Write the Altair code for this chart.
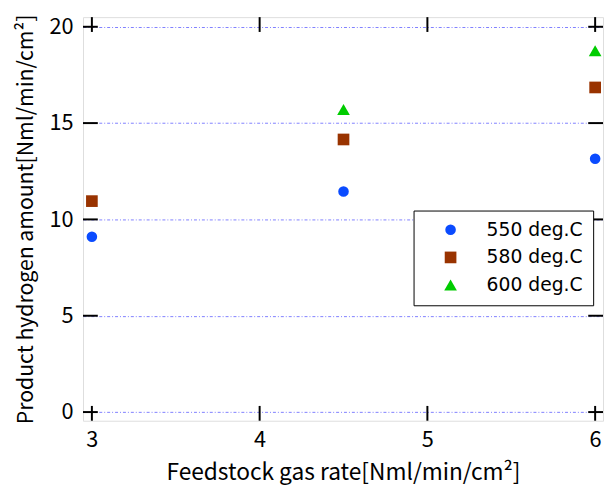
import altair as alt
import pandas as pd

series = ["550 deg.C", "580 deg.C", "600 deg.C"]
colors = ["#0A4BFF", "#993300", "#00CC00"]
shapes = ["circle", "square", "triangle-up"]
sizes = [115, 165, 140]

rate_550 = [3.0, 4.5, 6.0]
h2_550 = [9.1, 11.45, 13.15]
rate_580 = [3.0, 4.5, 6.0]
h2_580 = [10.95, 14.15, 16.85]
rate_600 = [4.5, 6.0]
h2_600 = [15.7, 18.75]

x_ticks = [3, 4, 5, 6]
y_ticks = [0, 5, 10, 15, 20]

rows = []
for s, xs, ys in [(series[0], rate_550, h2_550), (series[1], rate_580, h2_580), (series[2], rate_600, h2_600)]:
    for a, b in zip(xs, ys):
        rows.append({"rate": a, "h2": b, "series": s})
df = pd.DataFrame(rows)
xt = pd.DataFrame({"xt": x_ticks})
yt = pd.DataFrame({"yt": y_ticks})

W, H = 527, 409
FONT = "Noto Sans CJK JP"
xscale = alt.Scale(domain=[2.947, 6.047], nice=False, zero=False)
yscale = alt.Scale(domain=[-0.45, 20.5], nice=False, zero=False)

points = alt.Chart(df).mark_point(filled=True, opacity=1).encode(
    x=alt.X("rate:Q", scale=xscale,
            axis=alt.Axis(values=x_ticks, format="d", title="Feedstock gas rate[Nml/min/cm²]",
                          tickSize=0, labelPadding=9, grid=False, domain=False,
                          labelFontSize=22, titleFontSize=23, labelColor="#000",
                          titleColor="#000", titleFontWeight="normal", labelFont=FONT,
                          titleFont=FONT, titlePadding=12)),
    y=alt.Y("h2:Q", scale=yscale,
            axis=alt.Axis(values=y_ticks, format="d", title="Product hydrogen amount[Nml/min/cm²]",
                          tickSize=0, labelPadding=10, grid=True, gridColor="#7f7fff",
                          gridDash=[3, 2, 1, 2], gridWidth=1, domain=False,
                          labelFontSize=22, titleFontSize=21.5, labelColor="#000",
                          titleColor="#000", titleFontWeight="normal", labelFont=FONT,
                          titleFont=FONT, titlePadding=12)),
    color=alt.Color("series:N", scale=alt.Scale(domain=series, range=colors),
                    legend=alt.Legend(title=None, orient="none", legendX=335, legendY=196,
                                      strokeColor="#000", fillColor="#fff",
                                      padding=10, labelFontSize=19, labelFont="DejaVu Sans",
                                      labelColor="#000", symbolSize=160, rowPadding=8,
                                      symbolOpacity=1, symbolOffset=18, labelOffset=27,
                                      symbolStrokeWidth=0)),
    shape=alt.Shape("series:N", scale=alt.Scale(domain=series, range=shapes)),
    size=alt.Size("series:N", scale=alt.Scale(domain=series, range=sizes), legend=None),
)

tick_len = 15
xb = alt.Chart(xt).mark_rule(color="#000", strokeWidth=2).encode(
    x=alt.X("xt:Q", scale=xscale), y=alt.value(H), y2=alt.value(H - tick_len))
xtp = alt.Chart(xt).mark_rule(color="#000", strokeWidth=2).encode(
    x=alt.X("xt:Q", scale=xscale), y=alt.value(0), y2=alt.value(tick_len))
yl = alt.Chart(yt).mark_rule(color="#000", strokeWidth=2).encode(
    y=alt.Y("yt:Q", scale=yscale), x=alt.value(0), x2=alt.value(tick_len))
yr = alt.Chart(yt).mark_rule(color="#000", strokeWidth=2).encode(
    y=alt.Y("yt:Q", scale=yscale), x=alt.value(W), x2=alt.value(W - tick_len))

chart = alt.layer(points, xb, xtp, yl, yr).properties(
    width=W, height=H,
    autosize=alt.AutoSizeParams(type="none"),
    padding={"left": 76, "top": 6, "right": 2, "bottom": 72},
).configure_view(stroke="#000", strokeWidth=2.5).configure_legend(
    strokeWidth=1.5).configure(background="#fff")

chart.save("out.html", embed_options={"renderer": "svg", "actions": False})
